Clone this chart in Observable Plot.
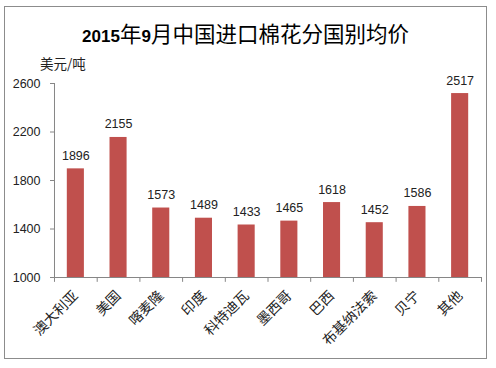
<!DOCTYPE html>
<html><head><meta charset="utf-8">
<script src="https://cdn.jsdelivr.net/npm/d3@7"></script>
<script src="https://cdn.jsdelivr.net/npm/@observablehq/plot@0.6"></script>
<style>
body{margin:0;background:#fff;}
#wrap{position:relative;width:496px;height:368px;overflow:hidden;}
#border{position:absolute;left:4px;top:6px;width:483px;height:353px;border:1px solid #8c8c8c;box-sizing:border-box;}
#title{position:absolute;left:4px;width:483px;top:20px;text-align:center;font-family:"Noto Sans CJK SC",sans-serif;font-size:21.5px;line-height:26px;color:#000;white-space:nowrap;}
#title .num{font-family:"Liberation Sans",Arial,sans-serif;font-weight:bold;font-size:17px;}
#unit{position:absolute;left:40px;top:54px;font-family:"Noto Sans CJK SC",sans-serif;font-size:13.5px;line-height:18px;color:#222;}
#chart{position:absolute;left:0;top:0;}
</style></head>
<body>
<div id="wrap">
<div id="border"></div>
<div id="chart"></div>
<div id="title"><span class="num">2015</span>年<span class="num">9</span>月中国进口棉花分国别均价</div>
<div id="unit">美元/吨</div>
</div>
<script>
const categories = ["澳大利亚","美国","喀麦隆","印度","科特迪瓦","墨西哥","巴西","布基纳法索","贝宁","其他"];
const values = [1896, 2155, 1573, 1489, 1433, 1465, 1618, 1452, 1586, 2517];
const yTicks = [1000, 1400, 1800, 2200, 2600];

const data = categories.map((c, i) => ({country: c, price: values[i]}));
const halfStep = 427 / categories.length / 2;

const chart = Plot.plot({
  width: 496,
  height: 368,
  marginLeft: 54,
  marginRight: 15,
  marginTop: 83,
  marginBottom: 91,
  style: {background: "transparent", fontFamily: "'Liberation Sans', Arial, sans-serif"},
  x: {domain: categories, paddingInner: 0.6, paddingOuter: 0.3, round: false, axis: null, label: null},
  y: {domain: [1000, 2600], axis: null, label: null},
  marks: [
    Plot.barY(data, {x: "country", y1: 1000, y2: "price", fill: "#C0504D"}),
    Plot.ruleY([1000], {stroke: "#868686"}),
    Plot.ruleX([categories[0]], {y1: 1000, y2: 2600, dx: -halfStep, stroke: "#868686"}),
    Plot.ruleX(categories, {y1: 1000, y2: 960, dx: -halfStep, stroke: "#868686"}),
    Plot.ruleX([categories[categories.length - 1]], {y1: 1000, y2: 960, dx: halfStep, stroke: "#868686"}),
    Plot.axisY({ticks: yTicks, tickFormat: d => String(d), label: null, tickSize: 4, tickPadding: 10, stroke: "#868686", fill: "#222", fontSize: 12.5}),
    Plot.axisX({label: null, tickSize: 0, tickPadding: 16, tickRotate: -45, fill: "#222", fontSize: 14, fontFamily: "'Noto Sans CJK SC', sans-serif"}),
    Plot.text(data, {x: "country", y: "price", text: d => String(d.price), dy: -13, fill: "#222", fontSize: 12.5})
  ]
});
document.getElementById("chart").appendChild(chart);
</script>
</body></html>
